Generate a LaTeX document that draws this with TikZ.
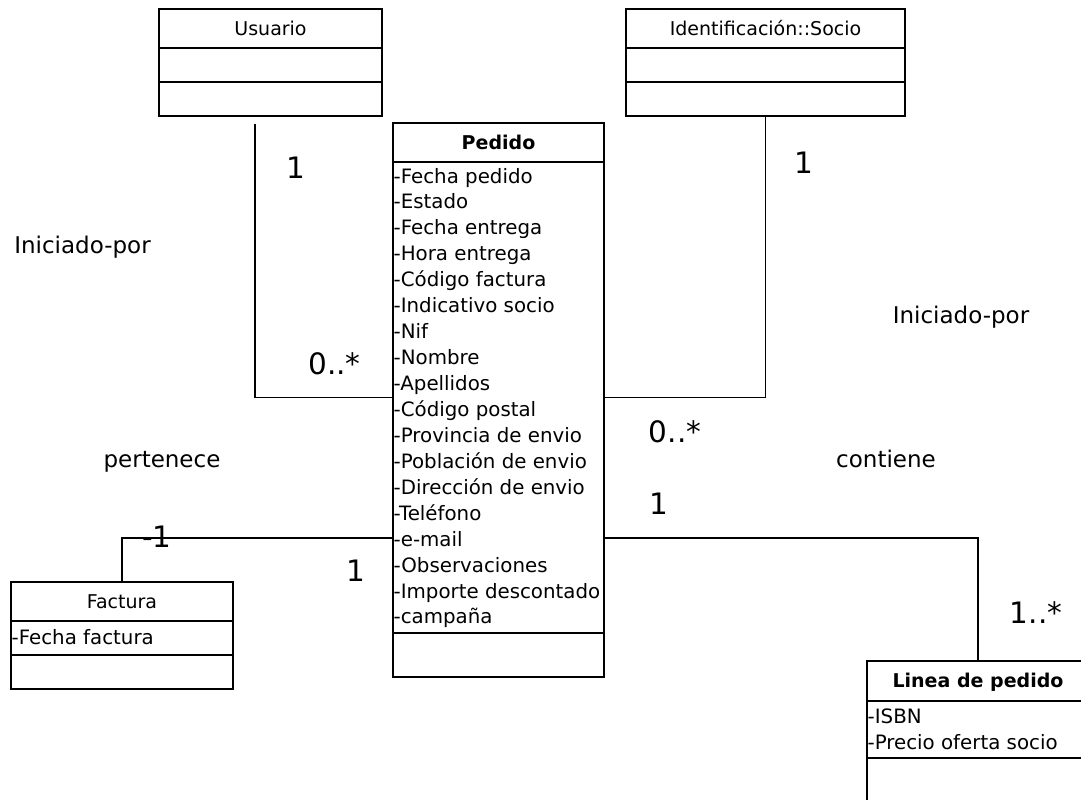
\documentclass[tikz,border=0pt]{standalone}
\usepackage{fontspec}
\setmainfont{DejaVu Sans}
\usetikzlibrary{positioning}

\begin{document}
\begin{tikzpicture}[x=1pt, y=-1pt,
    box/.style={draw, line width=1.8pt, inner sep=0pt, outer sep=0pt, minimum width=#1},
    title/.style={font=\fontsize{19pt}{23pt}\selectfont, text height=13.9pt, text depth=0pt, minimum height=39pt},
    attr/.style={font=\fontsize{19.8pt}{26pt}\selectfont, inner sep=0pt, anchor=base west},
    mult/.style={font=\fontsize{29.5pt}{34pt}\selectfont, inner sep=0pt},
    assoc/.style={font=\fontsize{23pt}{28pt}\selectfont, inner sep=0pt, anchor=base},
    assocline/.style={draw, line width=1.8pt}]
    \useasboundingbox (0,0) rectangle (1081,800);
    \clip (0,0) rectangle (1081,800);

    % clases
    \node[box=223pt, title, anchor=north west] (usuario) at (159,9) {Usuario};
    \node[box=223pt, minimum height=34pt, below=0pt of usuario] (usuario-a) {};
    \node[box=223pt, minimum height=34pt, below=0pt of usuario-a] (usuario-o) {};

    \node[box=279pt, title, anchor=north west] (socio) at (626,9) {Identificación::Socio};
    \node[box=279pt, minimum height=34pt, below=0pt of socio] (socio-a) {};
    \node[box=279pt, minimum height=34pt, below=0pt of socio-a] (socio-o) {};

    \node[box=211pt, title, anchor=north west] (pedido) at (393,123) {\textbf{Pedido}};
    \node[box=211pt, minimum height=471pt, below=0pt of pedido] (pedido-a) {};
    \node[box=211pt, minimum height=44pt, below=0pt of pedido-a] (pedido-o) {};

    \node[box=222pt, title, anchor=north west] (factura) at (11,582) {Factura};
    \node[box=222pt, minimum height=34pt, below=0pt of factura] (factura-a) {};
    \node[box=222pt, minimum height=34pt, below=0pt of factura-a] (factura-o) {};

    \node[box=222pt, title, minimum height=40pt, anchor=north west] (linea) at (867,661) {\textbf{Linea de pedido}};
    \node[box=222pt, minimum height=57pt, below=0pt of linea] (linea-a) {};
    \node[box=222pt, minimum height=70pt, below=0pt of linea-a] (linea-o) {};

    % atributos
    \foreach \t [count=\i from 0] in {-Fecha pedido, -Estado, -Fecha entrega, -Hora entrega,
        -Código factura, -Indicativo socio, -Nif, -Nombre, -Apellidos, -Código postal,
        -Provincia de envio, -Población de envio, -Dirección de envio, -Teléfono, -e-mail,
        -Observaciones, -Importe descontado, -campaña}
        \node[attr] (ped-\i) at (393.5,{183+25.94*\i}) {\t};
    \node[attr] (fac-0) at (11.5,644) {-Fecha factura};
    \node[attr] (lin-0) at (867.5,723.5) {-ISBN};
    \node[attr] (lin-1) at (867.5,749) {-Precio oferta socio};

    % asociaciones
    \coordinate (usr-end) at (255,124);
    \coordinate (ped-w) at (pedido-a.west |- 0,538);
    \coordinate (ped-e) at (pedido-a.east |- 0,538);
    \draw[assocline] (usr-end) |- (pedido-a.west);
    \draw[assocline] (socio-o.south) |- (pedido-a.east);
    \draw[assocline] (factura.north) |- (ped-w);
    \draw[assocline] (ped-e) -| (linea.north);

    % nombres y multiplicidades
    \node[assoc] (ini-1) at (82.5,253) {Iniciado-por};
    \node[assoc] (ini-2) at (961,323) {Iniciado-por};
    \node[assoc] (pert) at (162,467.5) {pertenece};
    \node[assoc] (cont) at (886,467.5) {contiene};

    \node[mult] (m-usr) at (296,167.5) {1};
    \node[mult] (m-usr-ped) at (334.5,364) {0..*};
    \node[mult] (m-soc) at (804,162.5) {1};
    \node[mult] (m-soc-ped) at (675,432) {0..*};
    \node[mult] (m-ped-lin) at (659,504) {1};
    \node[mult] (m-fac) at (157,536.5) {-1};
    \node[mult] (m-ped-fac) at (355.5,570.5) {1};
    \node[mult] (m-lin) at (1036,612.5) {1..*};
\end{tikzpicture}
\end{document}
